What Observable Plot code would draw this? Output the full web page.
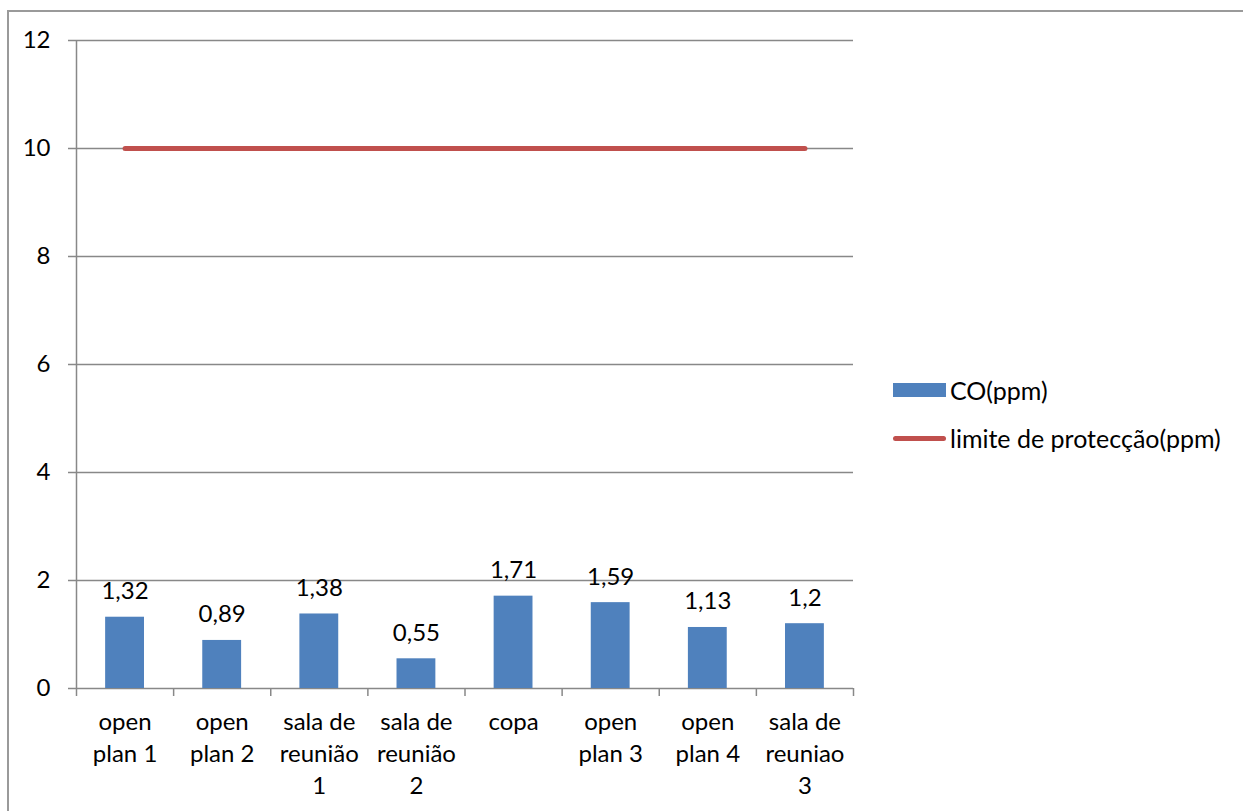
<!DOCTYPE html>
<html>
<head>
<meta charset="utf-8">
<script src="https://cdn.jsdelivr.net/npm/d3@7"></script>
<script src="https://cdn.jsdelivr.net/npm/@observablehq/plot@0.6"></script>
<style>
  html, body { margin: 0; padding: 0; background: #fff; }
  body { width: 1243px; height: 811px; position: relative; overflow: hidden; font-family: Lato, "Open Sans", sans-serif; }
  #frame { position: absolute; left: 7px; top: 10px; width: 1260px; height: 820px; border: 2px solid #9a9a9a; box-sizing: border-box; }
  #chart { position: absolute; left: 0; top: 0; }
  .legend { position: absolute; left: 893px; font-size: 25px; color: #000; display: flex; align-items: center; height: 30px; }
  .legend .sw { display: inline-block; width: 53px; margin-right: 4px; }
</style>
</head>
<body>
<div id="frame"></div>
<div id="chart"></div>
<div class="legend" style="top:375px"><span class="sw" style="height:14px;background:#4F81BD"></span><span>CO(ppm)</span></div>
<div class="legend" style="top:423px"><span class="sw" style="height:5px;border-radius:3px;background:#C0504D"></span><span>limite de protecção(ppm)</span></div>
<script>
// Measured CO concentration per room, with the protection limit
const rooms = ["open\nplan 1", "open\nplan 2", "sala de\nreunião\n1", "sala de\nreunião\n2", "copa", "open\nplan 3", "open\nplan 4", "sala de\nreuniao\n3"];
const coPpm = [1.32, 0.89, 1.38, 0.55, 1.71, 1.59, 1.13, 1.2];
const limitPpm = [10, 10, 10, 10, 10, 10, 10, 10];
const yTicks = [0, 2, 4, 6, 8, 10, 12];

const rows = rooms.map((name, i) => ({ i, name, co: coPpm[i], limit: limitPpm[i] }));
const boundaries = d3.range(rooms.length + 1);
const fmt = v => String(v).replace(".", ",");
const grid = "#888";

const chart = Plot.plot({
  width: 1243,
  height: 811,
  marginLeft: 76,
  marginRight: 390,
  marginTop: 40,
  marginBottom: 123,
  style: { fontFamily: "Lato, 'Open Sans', sans-serif", fontSize: "24px", color: "#000", background: "transparent" },
  x: { type: "linear", domain: [0, rooms.length], axis: null },
  y: { type: "linear", domain: [0, 12], axis: null },
  marks: [
    // horizontal gridlines, extended left into the y ticks
    Plot.ruleY(yTicks, { stroke: grid, strokeWidth: 1.5, insetLeft: -8 }),
    // y axis line
    Plot.ruleX([0], { stroke: grid, strokeWidth: 1.5 }),
    Plot.text(yTicks, { x: 0, y: d => d, text: d => String(d), textAnchor: "end", dx: -26, fill: "#000" }),
    // category boundary ticks below the baseline
    Plot.ruleX(boundaries, { y1: 0, y2: 0, stroke: grid, strokeWidth: 1.5, insetBottom: -8 }),
    // bars
    Plot.rectY(rows, { x1: d => d.i + 0.3, x2: d => d.i + 0.7, y: "co", fill: "#4F81BD" }),
    // value labels
    Plot.text(rows, { x: d => d.i + 0.5, y: "co", text: d => fmt(d.co), lineAnchor: "bottom", dy: -18, fill: "#000" }),
    // protection limit line
    Plot.lineY(rows, { x: d => d.i + 0.5, y: "limit", stroke: "#C0504D", strokeWidth: 5, strokeLinecap: "round" }),
    // category labels
    Plot.text(rows, { x: d => d.i + 0.5, y: 0, text: "name", lineAnchor: "top", dy: 18, lineHeight: 1.35, fill: "#000" })
  ]
});
document.getElementById("chart").appendChild(chart);
</script>
</body>
</html>
